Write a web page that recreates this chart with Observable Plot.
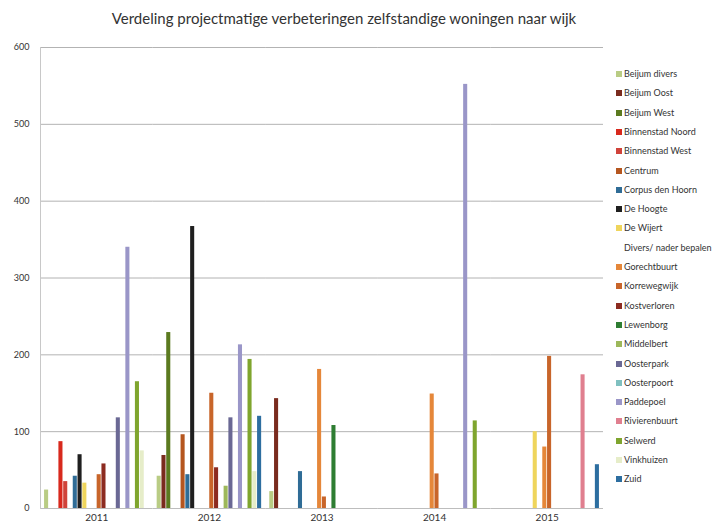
<!DOCTYPE html>
<html>
<head>
<meta charset="utf-8">
<script src="https://cdn.jsdelivr.net/npm/d3@7"></script>
<script src="https://cdn.jsdelivr.net/npm/@observablehq/plot@0.6"></script>
<style>
  html, body { margin: 0; padding: 0; background: #fff; }
  #wrap { position: relative; width: 728px; height: 526px; font-family: Lato, "Open Sans", sans-serif; }
  #title { position: absolute; left: 0; top: 9px; width: 688px; text-align: center; font-size: 15px; color: #333; }
  #chart { position: absolute; left: 0; top: 35px; }
  #legend { position: absolute; left: 616px; top: 0; }
  .item { position: absolute; left: 0; white-space: nowrap; font-size: 9px; color: #333; line-height: 10px; }
  .sw { display: inline-block; width: 6px; height: 6px; margin-right: 2px; vertical-align: 0px; }
</style>
</head>
<body>
<div id="wrap">
  <div id="title">Verdeling projectmatige verbeteringen zelfstandige woningen naar wijk</div>
  <div id="chart"></div>
  <div id="legend"></div>
</div>
<script>
const years = ["2011", "2012", "2013", "2014", "2015"];
const districts = ["Beijum divers", "Beijum Oost", "Beijum West", "Binnenstad Noord", "Binnenstad West",
  "Centrum", "Corpus den Hoorn", "De Hoogte", "De Wijert", "Divers/ nader bepalen", "Gorechtbuurt",
  "Korrewegwijk", "Kostverloren", "Lewenborg", "Middelbert", "Oosterpark", "Oosterpoort", "Paddepoel",
  "Rivierenbuurt", "Selwerd", "Vinkhuizen", "Zuid"];
const colors = ["#b9cc84", "#7a2b1e", "#5b7a1f", "#d8291d", "#d0433a",
  "#b5561f", "#2f6c96", "#1f1f1f", "#efd55c", "#ffffff", "#e5873a",
  "#c8652a", "#8c2b20", "#2e7d32", "#9db85a", "#6a6894", "#7fc0c0", "#9a96c8",
  "#e07f8f", "#7fa52e", "#e6edc9", "#2d6ea0"];
// values per year, in the order of districts (null = no bar)
const v2011 = [24, null, null, 87, 35, null, 42, 70, 33, null, null, 44, 58, null, null, 118, null, 340, null, 165, 75, null];
const v2012 = [42, 69, 229, null, null, 96, 44, 367, null, null, null, 150, 53, null, 29, 118, null, 213, null, 194, 48, 120];
const v2013 = [22, 143, null, null, null, null, 48, null, null, null, 181, 15, null, 108, null, null, null, null, null, null, null, null];
const v2014 = [null, null, null, null, null, null, null, null, null, null, 149, 45, null, null, null, null, null, 552, null, 114, null, null];
const v2015 = [null, null, null, null, null, null, null, null, 100, null, 80, 198, null, null, null, null, null, null, 174, null, null, 57];
const yTicks = [0, 100, 200, 300, 400, 500, 600];

const valuesByYear = [v2011, v2012, v2013, v2014, v2015];
const data = years.flatMap((yr, i) => districts.map((d, j) => ({year: yr, district: d, value: valuesByYear[i][j]})))
  .filter(r => r.value != null);

const chart = Plot.plot({
  width: 606,
  height: 491,
  marginLeft: 40,
  marginRight: 3,
  marginTop: 12,
  marginBottom: 18,
  fx: {domain: years, paddingInner: 0, paddingOuter: 0, round: false, label: null},
  x: {domain: districts, paddingInner: 0.15, paddingOuter: 0.85, round: false, axis: null},
  y: {domain: [0, 600], axis: null},
  color: {domain: districts, range: colors},
  style: {fontFamily: "Lato, 'Open Sans', sans-serif", fontSize: "9px", color: "#333", background: "white"},
  marks: [
    Plot.ruleY(yTicks.filter(t => t > 0), {stroke: "#a0a0a0", strokeWidth: 0.8}),
    Plot.ruleY([0], {stroke: "#bdbdbd"}),
    Plot.barY(data, {fx: "year", x: "district", y: "value", fill: "district"}),
    Plot.axisY({ticks: yTicks, tickSize: 0, tickPadding: 11, label: null, fontSize: 9}),
    Plot.axisFx({anchor: "bottom", tickSize: 0, tickPadding: 5, label: null, fontSize: 10}),
    Plot.frame({anchor: "left", facetAnchor: "left", stroke: "#c8c8c8"})
  ]
});
document.getElementById("chart").appendChild(chart);

const legend = document.getElementById("legend");
districts.forEach((d, i) => {
  const item = document.createElement("div");
  item.className = "item";
  item.style.top = (69 + i * 19.3) + "px";
  const sw = document.createElement("span");
  sw.className = "sw";
  sw.style.background = colors[i];
  item.appendChild(sw);
  item.appendChild(document.createTextNode(d));
  legend.appendChild(item);
});
</script>
</body>
</html>
